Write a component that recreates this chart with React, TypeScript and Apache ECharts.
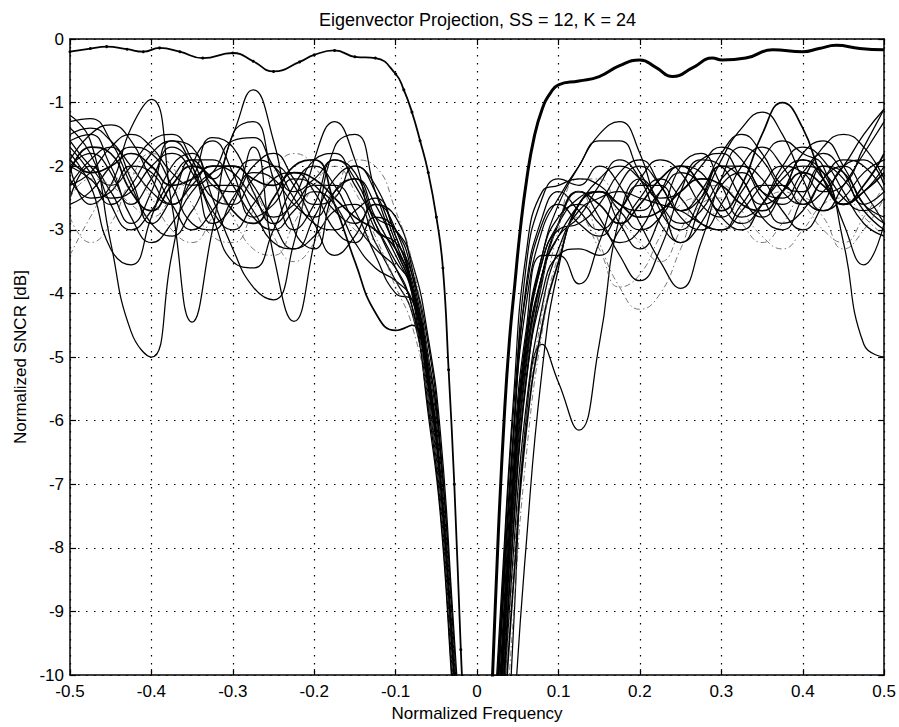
import React, { useEffect, useRef } from "react";
import * as echarts from "echarts";

// Frequency grids (normalized frequency)
const LEFT_F = [-0.5, -0.475, -0.45, -0.425, -0.4, -0.375, -0.35, -0.325, -0.3, -0.275, -0.25, -0.225, -0.2, -0.175, -0.15, -0.125, -0.1, -0.08, -0.06, -0.045, -0.03, -0.015];
const RIGHT_F = [0.015, 0.03, 0.045, 0.06, 0.08, 0.1, 0.125, 0.15, 0.175, 0.2, 0.225, 0.25, 0.275, 0.3, 0.325, 0.35, 0.375, 0.4, 0.425, 0.45, 0.475, 0.5];

// Eigenvector curves, left half (dB)
const LEFT_SNCR = [
  [-1.2, -1.6, -3.2, -4.6, -5.0, -3.4, -2.0, -1.6, -2.1, -2.8, -2.6, -2.2, -2.3, -2.7, -2.9, -2.6, -3.0, -3.9, -5.4, -7.0, -9.6, -12.5],
  [-2.0, -2.6, -2.3, -1.4, -0.95, -2.6, -4.45, -3.0, -1.5, -1.3, -2.2, -3.0, -2.6, -1.9, -2.1, -2.9, -3.6, -4.2, -5.8, -7.4, -10.2, -13],
  [-2.3, -1.9, -1.7, -2.2, -2.9, -2.5, -1.9, -2.2, -1.5, -0.8, -1.6, -3.0, -3.3, -2.4, -2.2, -2.8, -3.4, -4.0, -5.6, -7.2, -10, -13],
  [-1.6, -1.5, -2.0, -2.6, -2.2, -1.7, -2.0, -2.9, -2.6, -1.7, -3.4, -4.44, -3.2, -1.7, -1.5, -2.4, -3.3, -3.9, -5.0, -6.6, -9.4, -12.5],
  [-2.5, -2.0, -2.4, -2.9, -2.4, -1.6, -1.7, -2.5, -3.3, -3.9, -4.1, -3.2, -1.9, -1.3, -1.9, -3.0, -3.2, -3.7, -4.8, -6.4, -9.3, -12.5],
  [-1.8, -2.3, -3.3, -3.55, -2.8, -2.0, -1.8, -2.3, -2.4, -2.0, -1.8, -2.2, -2.6, -2.5, -2.0, -2.3, -3.1, -3.8, -5.2, -6.8, -9.6, -12.5],
  [-2.1, -1.7, -1.8, -2.4, -2.7, -2.3, -2.0, -2.2, -2.7, -2.9, -2.5, -2.0, -1.9, -2.6, -3.5, -4.3, -4.58, -4.5, -5.4, -6.8, -9.4, -12.5],
  [-1.5, -1.4, -1.6, -2.0, -2.4, -2.6, -2.3, -2.0, -2.1, -2.5, -2.8, -2.6, -2.3, -2.3, -2.7, -3.4, -4.0, -4.1, -5.0, -6.5, -9.2, -12.5],
  [-2.6, -2.4, -2.0, -1.7, -1.8, -2.3, -2.9, -3.0, -2.5, -2.1, -2.2, -2.6, -2.8, -2.4, -2.2, -2.6, -3.3, -4.0, -5.9, -7.5, -10.3, -13],
  [-1.7, -2.1, -2.6, -2.3, -1.8, -1.6, -2.0, -2.7, -3.0, -2.6, -2.2, -2.1, -2.4, -3.0, -3.2, -2.8, -3.0, -3.7, -5.2, -6.9, -9.7, -12.5],
  [-2.0, -1.8, -2.1, -2.8, -3.2, -2.9, -2.4, -2.1, -2.0, -2.3, -2.9, -3.3, -3.1, -2.7, -2.6, -3.2, -3.8, -4.3, -5.7, -7.3, -10, -13],
  [-1.4, -1.8, -2.6, -3.0, -2.7, -2.2, -1.9, -1.9, -2.3, -2.8, -3.0, -2.7, -2.4, -2.6, -3.2, -3.6, -3.8, -4.1, -5.1, -6.6, -9.3, -12.5],
  [-1.9, -1.5, -1.35, -1.6, -2.2, -2.6, -2.2, -1.55, -1.7, -2.4, -2.9, -2.5, -1.9, -1.8, -2.3, -2.8, -3.0, -3.5, -4.7, -6.2, -9.0, -12],
  [-2.3, -2.1, -1.7, -1.5, -1.7, -2.1, -2.3, -2.1, -1.6, -1.55, -2.0, -2.4, -2.2, -1.9, -2.2, -2.9, -3.5, -3.9, -5.5, -7.1, -9.9, -12.8],
  [-1.6, -2.0, -2.3, -2.0, -1.6, -1.5, -1.9, -2.5, -2.6, -2.2, -2.0, -2.3, -2.9, -3.4, -3.1, -2.6, -2.8, -3.6, -5.0, -6.7, -9.5, -12.5],
  [-2.2, -2.5, -2.4, -2.0, -2.1, -2.6, -3.0, -2.7, -2.2, -1.9, -2.0, -2.5, -2.9, -3.0, -2.7, -2.5, -3.1, -3.9, -5.3, -7.0, -9.8, -12.8],
  [-1.9, -2.1, -2.0, -1.8, -2.0, -2.3, -2.2, -2.0, -2.0, -2.2, -2.3, -2.1, -2.2, -2.5, -2.8, -3.0, -3.3, -3.9, -5.4, -7.1, -9.8, -12.8],
  [-3.4, -2.8, -2.3, -2.1, -2.5, -3.0, -3.2, -2.8, -2.3, -2.4, -3.1, -3.5, -3.2, -2.5, -1.9, -2.0, -2.7, -3.5, -5.0, -6.7, -9.4, -12.5],
  [-2.8, -3.2, -2.9, -2.2, -1.8, -2.0, -2.6, -3.1, -3.2, -2.7, -2.1, -1.8, -2.0, -2.6, -3.0, -3.2, -3.9, -4.5, -5.7, -7.3, -10, -13],
  [-1.3, -1.25, -1.6, -2.3, -2.9, -3.1, -2.7, -2.3, -2.3, -2.7, -3.2, -3.3, -2.8, -2.2, -2.0, -2.4, -3.2, -3.9, -5.3, -6.9, -9.6, -12.5],
  [-2.5, -2.2, -2.3, -2.6, -2.8, -2.5, -2.2, -2.3, -2.8, -3.3, -3.4, -2.9, -2.3, -2.0, -2.4, -3.1, -3.8, -4.3, -5.6, -7.1, -9.8, -12.8],
  [-2.0, -2.2, -2.5, -2.4, -2.0, -1.8, -2.1, -2.8, -3.5, -3.6, -3.0, -2.3, -2.0, -2.3, -2.9, -3.3, -3.6, -4.2, -5.4, -7.0, -9.7, -12.5],
];

// Eigenvector curves, right half (dB)
const RIGHT_SNCR = [
  [-16, -13, -9.2, -6.0, -4.8, -5.4, -6.15, -4.8, -2.8, -2.2, -2.6, -3.2, -2.9, -2.3, -2.1, -2.5, -2.9, -2.7, -2.2, -2.0, -2.4, -2.9],
  [-18, -15, -10.8, -8.0, -5.2, -3.6, -2.6, -2.4, -2.9, -3.3, -2.8, -2.0, -1.8, -2.3, -2.8, -2.6, -2.1, -1.9, -2.2, -2.6, -2.4, -2.0],
  [-13, -9.8, -6.8, -4.8, -3.4, -2.6, -2.0, -1.5, -1.3, -1.8, -2.7, -3.0, -2.5, -2.0, -2.2, -2.8, -3.0, -2.5, -2.0, -2.1, -2.6, -2.8],
  [-14, -10.8, -7.6, -5.4, -3.8, -2.9, -2.4, -2.6, -2.9, -2.6, -2.2, -2.0, -2.3, -2.7, -2.3, -1.5, -1.0, -1.4, -2.2, -2.6, -2.3, -1.8],
  [-13.5, -10.2, -7.0, -5.0, -3.7, -3.1, -2.8, -2.3, -1.9, -2.2, -2.9, -3.2, -2.6, -1.9, -1.4, -1.15, -1.5, -2.2, -2.7, -2.5, -2.1, -1.9],
  [-12.5, -9.0, -6.2, -3.9, -2.8, -2.4, -2.7, -3.0, -2.7, -2.2, -1.9, -2.1, -2.6, -2.8, -2.4, -1.9, -1.6, -1.8, -2.0, -3.2, -4.8, -5.0],
  [-13.4, -10, -7.0, -4.9, -3.5, -2.9, -2.5, -2.4, -2.7, -3.0, -2.8, -2.3, -1.9, -1.8, -2.2, -2.6, -2.4, -1.9, -2.1, -2.9, -3.55, -2.9],
  [-14.2, -11, -8.0, -5.8, -4.2, -3.3, -2.7, -2.5, -2.4, -2.5, -2.6, -2.7, -2.9, -3.0, -2.7, -2.3, -2.0, -2.1, -2.4, -2.3, -1.7, -1.1],
  [-13, -9.6, -6.5, -4.6, -3.4, -3.4, -3.85, -3.2, -2.3, -2.0, -2.3, -2.7, -2.5, -2.0, -2.0, -2.4, -2.5, -2.1, -1.8, -2.1, -2.6, -2.4],
  [-14, -10.4, -7.3, -5.2, -3.7, -2.9, -2.4, -2.8, -3.4, -3.8, -3.3, -2.4, -1.9, -2.0, -2.5, -2.8, -2.4, -1.8, -1.6, -2.0, -2.6, -2.9],
  [-12.8, -9.3, -6.2, -3.6, -2.5, -2.2, -2.3, -2.0, -2.3, -2.9, -3.5, -3.92, -3.2, -2.2, -1.7, -1.9, -2.4, -2.6, -2.2, -1.9, -2.0, -2.4],
  [-13.5, -10.4, -7.3, -5.2, -3.8, -2.9, -2.4, -3.2, -3.9, -4.25, -4.0, -3.3, -2.6, -2.5, -2.9, -3.2, -2.9, -2.5, -2.8, -3.3, -3.0, -2.5],
  [-14, -11, -8.2, -6.0, -4.3, -3.0, -2.2, -2.2, -2.8, -3.2, -3.5, -3.0, -2.4, -2.3, -2.7, -3.1, -3.3, -3.0, -2.6, -2.5, -2.8, -3.1],
  [-12.5, -9.2, -6.1, -4.2, -3.0, -2.5, -2.0, -1.6, -1.6, -2.1, -2.5, -2.4, -2.0, -1.7, -1.9, -2.4, -2.6, -2.2, -1.7, -1.5, -1.7, -2.2],
  [-13.2, -10, -6.9, -4.8, -3.5, -3.0, -2.9, -2.6, -2.1, -1.9, -2.3, -2.8, -3.0, -2.6, -2.0, -1.7, -2.0, -2.5, -2.7, -2.3, -1.8, -1.3],
  [-13.8, -10.6, -7.6, -5.4, -4.0, -3.4, -3.3, -3.4, -3.0, -2.5, -2.2, -2.5, -2.9, -3.0, -2.6, -2.3, -2.3, -2.6, -2.4, -2.0, -1.5, -1.1],
  [-12.2, -8.9, -5.8, -4.0, -2.9, -2.6, -2.9, -3.1, -2.7, -2.3, -2.3, -2.7, -2.4, -1.8, -1.5, -1.8, -2.3, -2.4, -2.0, -2.2, -2.7, -3.0],
  [-14.5, -11.4, -8.5, -6.2, -4.5, -3.5, -2.6, -2.4, -2.6, -2.8, -2.7, -2.4, -2.2, -2.3, -2.6, -2.7, -2.4, -2.1, -2.3, -2.6, -2.4, -2.1],
  [-13, -9.8, -6.7, -4.7, -3.4, -2.8, -2.6, -2.9, -3.2, -3.0, -2.4, -2.0, -2.1, -2.6, -2.9, -2.6, -2.0, -1.7, -1.9, -2.4, -2.9, -3.1],
  [-15, -12, -9.0, -6.6, -4.6, -3.4, -2.8, -3.3, -3.9, -3.7, -3.1, -2.6, -2.5, -2.9, -3.0, -2.6, -2.4, -2.6, -3.0, -3.2, -2.8, -2.3],
  [-12, -8.7, -5.6, -3.4, -2.4, -2.3, -2.2, -2.3, -2.6, -2.7, -2.4, -2.1, -2.3, -2.8, -3.0, -2.6, -2.2, -2.0, -2.1, -2.5, -2.7, -2.5],
  [-13.6, -10.3, -7.2, -5.1, -3.7, -3.1, -2.6, -2.2, -2.0, -2.2, -2.6, -2.9, -2.7, -2.2, -2.0, -2.2, -2.7, -3.0, -2.6, -2.0, -1.9, -2.3],
];

// Which curves are drawn as thin dash-dot lines
const DASHED_LEFT = [17, 18, 20];
const DASHED_RIGHT = [11, 12, 19];

// Top (reference) curve
const TOP_LEFT_F = [-0.5, -0.475, -0.455, -0.43, -0.41, -0.39, -0.365, -0.337, -0.3, -0.275, -0.25, -0.218, -0.2, -0.175, -0.15, -0.125, -0.1, -0.09, -0.08, -0.07, -0.06, -0.05, -0.042, -0.035, -0.028, -0.02, -0.012];
const TOP_LEFT_DB = [-0.2, -0.15, -0.12, -0.16, -0.2, -0.14, -0.2, -0.3, -0.22, -0.35, -0.51, -0.36, -0.25, -0.18, -0.28, -0.3, -0.55, -0.8, -1.15, -1.6, -2.1, -2.8, -3.6, -5.2, -7.0, -9.6, -12];
const TOP_RIGHT_F = [0.012, 0.019, 0.026, 0.034, 0.04, 0.046, 0.053, 0.061, 0.07, 0.08, 0.09, 0.1, 0.125, 0.15, 0.175, 0.2, 0.22, 0.24, 0.265, 0.289, 0.301, 0.33, 0.363, 0.4, 0.42, 0.441, 0.47, 0.5];
const TOP_RIGHT_DB = [-12, -10, -7.8, -5.8, -4.7, -3.9, -3.0, -2.2, -1.55, -1.1, -0.85, -0.72, -0.66, -0.59, -0.42, -0.33, -0.45, -0.59, -0.45, -0.3, -0.33, -0.3, -0.17, -0.2, -0.15, -0.1, -0.15, -0.17];

const X_TICKS = [-0.5, -0.4, -0.3, -0.2, -0.1, 0, 0.1, 0.2, 0.3, 0.4, 0.5];
const Y_TICKS = [0, -1, -2, -3, -4, -5, -6, -7, -8, -9, -10];

const FONT = "'Liberation Sans', Arial, Helvetica, sans-serif";

function pairs(xs: number[], ys: number[]) {
  return xs.map((x, i) => [x, ys[i]]);
}

export default function App() {
  const ref = useRef<HTMLDivElement>(null);
  useEffect(() => {
    if (!ref.current) return;
    const chart = echarts.init(ref.current, null, { renderer: "svg" });
    const series: any[] = [];
    const lineSeries = (data: number[][], dashed: boolean, width: number) => ({
      type: "line",
      data,
      smooth: 0.5,
      showSymbol: false,
      symbol: "none",
      clip: true,
      silent: true,
      lineStyle: dashed
        ? { color: "#555", width: 0.8, type: [6, 3, 1.5, 3] }
        : { color: "#000", width },
      z: 3,
    });
    LEFT_SNCR.forEach((ys, i) => {
      series.push(lineSeries(pairs(LEFT_F, ys), DASHED_LEFT.includes(i), i === 16 || i === 6 ? 1.7 : 1.25));
    });
    RIGHT_SNCR.forEach((ys, i) => {
      series.push(lineSeries(pairs(RIGHT_F, ys), DASHED_RIGHT.includes(i), i === 17 || i === 3 ? 1.7 : 1.25));
    });
    series.push({
      type: "line",
      data: pairs(TOP_LEFT_F, TOP_LEFT_DB),
      smooth: 0.5,
      symbol: "circle",
      symbolSize: 3,
      showSymbol: true,
      itemStyle: { color: "#000" },
      lineStyle: { color: "#000", width: 1.8 },
      clip: true,
      silent: true,
      z: 4,
    });
    series.push({
      type: "line",
      data: pairs(TOP_RIGHT_F, TOP_RIGHT_DB),
      smooth: 0.5,
      symbol: "none",
      showSymbol: false,
      lineStyle: { color: "#000", width: 3 },
      clip: true,
      silent: true,
      z: 4,
    });

    const gridLine = { show: true, lineStyle: { color: "#000", width: 1.2, type: [1.5, 6.5] } };
    const axisLine = { show: true, onZero: false, lineStyle: { color: "#000", width: 1.5 } };
    const tick = { show: true, inside: true, length: 6, lineStyle: { color: "#000", width: 1.2 } };

    chart.setOption({
      animation: false,
      backgroundColor: "#fff",
      textStyle: { fontFamily: FONT },
      grid: { left: 70, right: 14, top: 39, bottom: 48 },
      graphic: [
        {
          type: "text",
          x: 477.5,
          y: 20,
          style: {
            text: "Eigenvector Projection, SS = 12, K = 24",
            fontSize: 18,
            fontFamily: FONT,
            fill: "#000",
            textAlign: "center",
            textVerticalAlign: "middle",
          },
        },
      ],
      xAxis: [
        {
          type: "value",
          position: "bottom",
          min: X_TICKS[0],
          max: X_TICKS[X_TICKS.length - 1],
          interval: 0.1,
          name: "Normalized Frequency",
          nameLocation: "middle",
          nameGap: 26,
          nameTextStyle: { fontSize: 17, color: "#000", fontFamily: FONT },
          axisLine,
          axisTick: tick,
          axisLabel: {
            fontSize: 17,
            color: "#000",
            margin: 8,
            fontFamily: FONT,
            formatter: (v: number) => String(Number(v.toFixed(1))),
          },
          splitLine: gridLine,
        },
        {
          type: "value",
          position: "top",
          min: X_TICKS[0],
          max: X_TICKS[X_TICKS.length - 1],
          interval: 0.1,
          axisLine,
          axisTick: tick,
          axisLabel: { show: false },
          splitLine: { show: false },
        },
      ],
      yAxis: [
        {
          type: "value",
          position: "left",
          min: Y_TICKS[Y_TICKS.length - 1],
          max: Y_TICKS[0],
          interval: 1,
          name: "Normalized SNCR [dB]",
          nameLocation: "middle",
          nameGap: 41,
          nameTextStyle: { fontSize: 17, color: "#000", fontFamily: FONT },
          axisLine,
          axisTick: tick,
          axisLabel: {
            fontSize: 17,
            color: "#000",
            margin: 6,
            fontFamily: FONT,
            formatter: (v: number) => String(Math.round(v)),
          },
          splitLine: gridLine,
        },
        {
          type: "value",
          position: "right",
          min: Y_TICKS[Y_TICKS.length - 1],
          max: Y_TICKS[0],
          interval: 1,
          axisLine,
          axisTick: tick,
          axisLabel: { show: false },
          splitLine: { show: false },
        },
      ],
      series,
    });
    return () => chart.dispose();
  }, []);
  return <div ref={ref} style={{ width: 899, height: 727, position: "absolute", left: 0, top: 0 }} />;
}
